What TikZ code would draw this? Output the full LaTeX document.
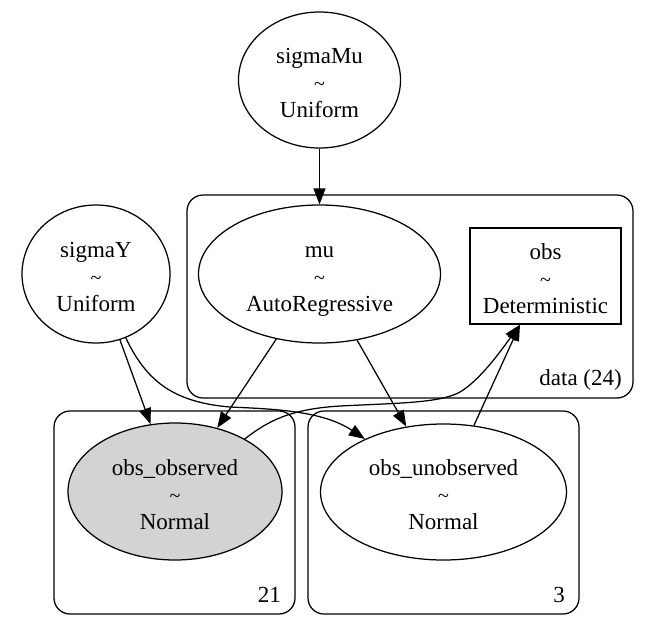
\documentclass[tikz,border=0pt]{standalone}
\usepackage{fontspec}
\setmainfont{Liberation Serif}
\usetikzlibrary{shapes.geometric,arrows.meta}
\definecolor{nodegray}{RGB}{211,211,211}
\newcommand\tld{{\fontsize{20}{20}\selectfont\textasciitilde}}
\begin{document}
\begin{tikzpicture}[x=1pt,y=-1pt,
  every node/.style={font=\fontsize{23}{27}\selectfont, align=center, inner sep=0pt},
  vtext/.style={yshift=-5.5pt},
  dist/.style={draw, ellipse, line width=1.25pt},
  detbox/.style={draw, rectangle, line width=1.25pt},
  plate/.style={draw, rectangle, rounded corners=16pt, line width=1.25pt},
  arr/.style={-{Triangle[length=16pt,width=12pt]}, line width=1.25pt},
]
\fill[white] (0,0) rectangle (648,625);
\useasboundingbox (0,0) rectangle (648,625);

% plates
\node[plate, minimum width=446pt, minimum height=203pt] (dataplate) at (410,296.5) {};
\node[plate, minimum width=241pt, minimum height=203pt] (plateA) at (174.5,512.5) {};
\node[plate, minimum width=271pt, minimum height=203pt] (plateB) at (443.5,512.5) {};

% variables
\node[dist, minimum width=162pt, minimum height=136pt,
  label={[vtext]center:{\strut sigmaMu\\\strut\tld\\\strut Uniform}}] (sigmaMu) at (319.5,80) {};
\node[dist, minimum width=148pt, minimum height=138pt,
  label={[vtext]center:{\strut sigmaY\\\strut\tld\\\strut Uniform}}] (sigmaY) at (96,274) {};
\node[dist, minimum width=242pt, minimum height=138pt,
  label={[vtext]center:{\strut mu\\\strut\tld\\\strut AutoRegressive}}] (mu) at (319.5,274) {};
\node[detbox, minimum width=151pt, minimum height=96pt,
  label={[vtext]center:{\strut obs\\\strut\tld\\\strut Deterministic}}] (obs) at (545.5,276) {};
\node[dist, fill=nodegray, minimum width=214pt, minimum height=137pt,
  label={[vtext]center:{\strut obs\_observed\\\strut\tld\\\strut Normal}}] (obsO) at (175,491.5) {};
\node[dist, minimum width=246pt, minimum height=136pt,
  label={[vtext]center:{\strut obs\_unobserved\\\strut\tld\\\strut Normal}}] (obsU) at (443.5,492) {};

% plate labels
\node[anchor=east] (datalbl) at (622,380) {data (24)};
\node[anchor=east] (lblA) at (281,595) {21};
\node[anchor=east] (lblB) at (565,595) {3};

% edges
\coordinate (obsIn) at ([xshift=-25.5pt]obs.south);
\draw[arr] (sigmaMu) -- (mu);
\draw[arr] (sigmaY) -- (obsO);
\draw[arr] (mu) -- (obsO);
\draw[arr] (mu) -- (obsU);
\draw[arr] (obsU) -- (obsIn);
\draw[arr] (sigmaY.-65) .. controls (145,378) and (170,402) .. (230,407)
           .. controls (275,409) and (323,411) .. (obsU.146);
\draw[arr] (obsO.37) .. controls (268,421) and (290,409) .. (340,406)
           .. controls (400,403) and (440,403) .. (460,392)
           .. controls (480,380) and (500,352) .. (obsIn);
\end{tikzpicture}
\end{document}
